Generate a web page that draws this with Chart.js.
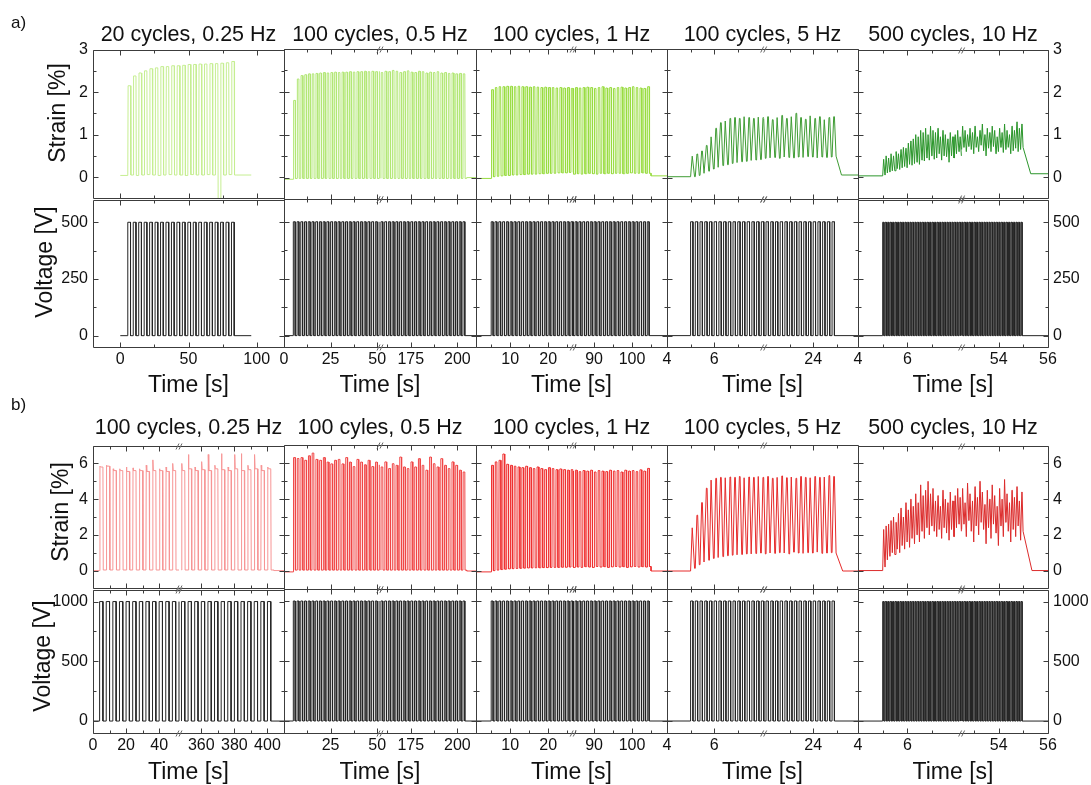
<!DOCTYPE html>
<html>
<head>
<meta charset="utf-8">
<script src="https://cdn.jsdelivr.net/npm/chart.js@4.4.1/dist/chart.umd.min.js"></script>
<style>
  body { margin: 0; background: #fff; }
  #fig { position: relative; width: 1091px; height: 785px; overflow: hidden; font-family: "Liberation Sans", Arial, sans-serif; color: #111; }
  #fig canvas { position: absolute; }
  .lbl { position: absolute; white-space: nowrap; line-height: 1; transform: translate(-50%, -50%); }
  .rot { transform: translate(-50%, -50%) rotate(-90deg); }
</style>
</head>
<body>
<div id="fig"></div>
<script>
const FONT = '"Liberation Sans", Arial, sans-serif';

// ---------- panel titles ----------
const titlesA = ['20 cycles, 0.25 Hz', '100 cycles, 0.5 Hz', '100 cycles, 1 Hz', '100 cycles, 5 Hz', '500 cycles, 10 Hz'];
const titlesB = ['100 cycles, 0.25 Hz', '100 cyles, 0.5 Hz', '100 cycles, 1 Hz', '100 cycles, 5 Hz', '500 cycles, 10 Hz'];

// ---------- actuation ----------
const freqA = [0.25, 0.5, 1, 5, 10];
const cyclesA = [20, 100, 100, 100, 500];
const startA = [5.5, 5, 5, 5, 5];        // s, first pulse
const freqB = [0.25, 0.5, 1, 5, 10];
const cyclesB = [100, 100, 100, 100, 500];
const startB = [4, 5, 5, 5, 5];
const voltLevelA = 500;
const voltLevelB = 1000;

// recorded span [first, last] in s
const recA = [[0, 96], [0, 210], [1, 109.2], [4, 25.9], [4, 56]];
const recB = [[0, 410], [0, 210], [1, 109.2], [4, 25.9], [4, 56]];

// visible pieces of the (broken) time axes
const timeAxisA = [[[-20, 120]], [[0, 51.5], [158.5, 210]], [[1, 26.6], [84.5, 109.2]], [[4, 8.1], [21.9, 25.9]], [[4, 8.2], [52.5, 56]]];
const timeAxisB = [[[0, 52], [346.5, 410]], [[0, 51.5], [158.5, 210]], [[1, 26.6], [84.5, 109.2]], [[4, 8.1], [21.9, 25.9]], [[4, 8.2], [52.5, 56]]];
const timeTicksA = [[0, 50, 100], [0, 25, 50, 175, 200], [10, 20, 90, 100], [4, 6, 24], [4, 6, 54, 56]];
const timeLabelsA = [['0', '50', '100'], ['0', '25', '50', '175', '200'], ['10', '20', '90', '100'], ['4', '6', '24'], ['4', '6', '54', '56']];
const timeMinorA = [[25, 75], [12.5, 37.5, 162.5, 187.5], [5, 15, 25, 85, 95, 105], [5, 7, 23, 25], [5, 7, 53, 55]];
const timeTicksB = [[0, 20, 40, 360, 380, 400], [0, 25, 50, 175, 200], [10, 20, 90, 100], [4, 6, 24], [4, 6, 54, 56]];
const timeLabelsB = [['0', '20', '40', '360', '380', '400'], ['', '25', '50', '175', '200'], ['10', '20', '90', '100'], ['4', '6', '24'], ['4', '6', '54', '56']];
const timeMinorB = [[10, 30, 370, 390], [12.5, 37.5, 162.5, 187.5], [5, 15, 25, 85, 95, 105], [5, 7, 23, 25], [5, 7, 53, 55]];

// y axes
const strainRangeA = [-0.5, 3], strainTicksA = [0, 1, 2, 3], strainMinorA = [0.5, 1.5, 2.5];
const voltRangeA = [-50, 600], voltTicksA = [0, 250, 500], voltMinorA = [125, 375];
const strainRangeB = [-1, 7], strainTicksB = [0, 2, 4, 6], strainMinorB = [1, 3, 5];
const voltRangeB = [-100, 1100], voltTicksB = [0, 500, 1000], voltMinorB = [250, 750];

// ---------- strain, read per cycle (peak / low), % ----------
// a) column 1
const a1Peak = [2.15, 2.38, 2.45, 2.5, 2.55, 2.57, 2.6, 2.6, 2.62, 2.62, 2.63, 2.65, 2.65, 2.66, 2.66, 2.67, 2.67, 2.68, 2.69, 2.72];
const a1Low = [0.05, 0.04, 0.05, 0.06, 0.05, 0.04, 0.05, 0.06, 0.05, 0.05, 0.04, 0.06, 0.05, 0.05, 0.06, 0.05, -0.62, 0.05, 0.06, 0.05];
// a) column 2
const a2PeakL = [1.8, 2.3, 2.38, 2.4, 2.42, 2.42, 2.43, 2.44, 2.45, 2.44, 2.45, 2.46, 2.45, 2.46, 2.46, 2.47, 2.46, 2.47, 2.47, 2.48, 2.47, 2.48, 2.47, 2.48];
const a2PeakR = [2.42, 2.45, 2.48, 2.47, 2.5, 2.48, 2.45, 2.47, 2.49, 2.46, 2.45, 2.48, 2.47, 2.44, 2.46, 2.45, 2.47, 2.44, 2.45, 2.43, 2.44, 2.42, 2.43, 2.42];
const a2Low = -0.02;
// a) column 3
const a3PeakL = [2.05, 2.1, 2.12, 2.12, 2.13, 2.13, 2.12, 2.13, 2.12, 2.12, 2.11, 2.12, 2.11, 2.1, 2.11, 2.1, 2.1, 2.09, 2.1, 2.09, 2.1, 2.08];
const a3PeakR = [2.08, 2.1, 2.09, 2.1, 2.11, 2.1, 2.08, 2.1, 2.12, 2.09, 2.1, 2.08, 2.1, 2.11, 2.09, 2.1, 2.12, 2.1, 2.09, 2.08, 2.12];
const a3LowL = [0.02, 0.03, 0.04, 0.05, 0.05, 0.06, 0.06, 0.07, 0.07, 0.08, 0.08, 0.08, 0.09, 0.09, 0.1, 0.1, 0.1, 0.11, 0.11, 0.11, 0.12, 0.12];
const a3LowR = [0.08, 0.09, 0.08, 0.09, 0.1, 0.09, 0.08, 0.1, 0.09, 0.1, 0.09, 0.1, 0.1, 0.09, 0.1, 0.11, 0.1, 0.1, 0.11, 0.1, 0.1];
// a) column 4
const a4PeakL = [0.5, 0.55, 0.62, 0.75, 0.95, 1.15, 1.28, 1.32, 1.38, 1.4, 1.38, 1.42, 1.4, 1.38, 1.41, 1.4];
const a4LowL = [0.02, 0.05, 0.1, 0.15, 0.2, 0.24, 0.28, 0.3, 0.33, 0.35, 0.37, 0.38, 0.4, 0.41, 0.42, 0.43];
const a4PeakR = [1.38, 1.42, 1.35, 1.4, 1.45, 1.38, 1.42, 1.5, 1.4, 1.36, 1.44, 1.38, 1.42, 1.35, 1.4, 1.42];
const a4LowR = [0.45, 0.46, 0.47, 0.45, 0.48, 0.47, 0.46, 0.48, 0.47, 0.49, 0.48, 0.46, 0.48, 0.47, 0.48, 0.5];
// a) column 5
const a5PeakL = [0.42, 0.5, 0.45, 0.55, 0.5, 0.6, 0.55, 0.65, 0.7, 0.68, 0.8, 0.85, 0.9, 1.0, 0.95, 1.1, 1.05, 1.15, 1.0, 1.2, 1.1, 1.05, 1.15, 0.95, 1.1, 1.0, 0.9, 1.05, 0.95, 1.0, 1.1, 0.95];
const a5LowL = [0.05, 0.1, 0.12, 0.15, 0.15, 0.2, 0.18, 0.22, 0.25, 0.22, 0.3, 0.28, 0.32, 0.35, 0.3, 0.4, 0.38, 0.45, 0.4, 0.5, 0.42, 0.45, 0.55, 0.4, 0.5, 0.48, 0.35, 0.5, 0.45, 0.55, 0.6, 0.5];
const a5PeakR = [0.95, 1.2, 1.1, 1.0, 1.15, 1.05, 1.2, 0.95, 1.1, 1.25, 1.0, 1.15, 1.05, 1.2, 1.1, 0.95, 1.15, 1.05, 1.25, 1.1, 1.0, 1.2, 1.1, 1.3, 1.15, 1.25];
const a5LowR = [0.65, 0.7, 0.6, 0.72, 0.65, 0.55, 0.7, 0.6, 0.75, 0.62, 0.5, 0.68, 0.6, 0.72, 0.55, 0.6, 0.7, 0.58, 0.65, 0.7, 0.55, 0.62, 0.68, 0.6, 0.65, 0.7];

// b) column 1 (overshoot spike, then plateau)
const b1SpikeL = [5.85, 5.9, 5.7, 5.7, 5.8, 5.75, 5.7, 5.9, 6.2, 5.7, 5.8, 6.0, 5.6];
const b1PeakL = [5.8, 5.85, 5.6, 5.6, 5.55, 5.6, 5.6, 5.55, 5.6, 5.6, 5.55, 5.6, 5.5];
const b1SpikeR = [6.6, 6.0, 6.5, 5.8, 6.1, 6.5, 5.9, 6.55, 5.8, 6.5, 6.55, 5.9, 6.5, 5.9, 5.8];
const b1PeakR = [5.6, 5.6, 5.7, 5.6, 5.65, 5.6, 5.7, 5.65, 5.6, 5.7, 5.6, 5.65, 5.7, 5.6, 5.7];
const b1Low = 0.03;
// b) column 2
const b2PeakL = [6.3, 6.25, 6.3, 6.15, 6.4, 6.55, 6.2, 6.15, 6.3, 6.05, 5.95, 6.15, 6.2, 5.95, 6.3, 6.05, 5.8, 6.2, 6.05, 5.9, 6.15, 5.8, 6.05, 5.9];
const b2PeakR = [5.87, 5.78, 6.06, 5.69, 5.96, 5.87, 6.33, 5.78, 5.69, 6.06, 5.78, 6.24, 5.87, 5.6, 6.33, 5.96, 5.78, 6.24, 5.87, 5.69, 6.06, 5.87, 5.6, 5.5];
const b2Low = 0.05;
// b) column 3
const b3PeakL = [5.87, 6.06, 6.15, 6.5, 5.93, 5.87, 5.82, 5.78, 5.74, 5.82, 5.74, 5.69, 5.78, 5.69, 5.63, 5.74, 5.69, 5.63, 5.67, 5.63, 5.6, 5.63];
const b3PeakR = [5.55, 5.6, 5.52, 5.58, 5.55, 5.6, 5.5, 5.58, 5.55, 5.52, 5.6, 5.55, 5.58, 5.5, 5.6, 5.55, 5.58, 5.52, 5.62, 5.55, 5.7];
const b3LowL = [0.02, 0.05, 0.08, 0.1, 0.12, 0.13, 0.14, 0.15, 0.16, 0.17, 0.17, 0.18, 0.18, 0.19, 0.19, 0.2, 0.2, 0.2, 0.21, 0.21, 0.22, 0.22];
const b3LowR = [0.2, 0.22, 0.2, 0.24, 0.22, 0.2, 0.25, 0.22, 0.24, 0.2, 0.23, 0.25, 0.22, 0.24, 0.2, 0.23, 0.25, 0.22, 0.24, 0.22, 0.25];
// b) column 4
const b4PeakL = [2.4, 3.1, 3.8, 4.6, 5.05, 5.15, 5.2, 5.18, 5.22, 5.2, 5.25, 5.18, 5.22, 5.2, 5.25, 5.2];
const b4LowL = [0.15, 0.35, 0.5, 0.6, 0.7, 0.75, 0.8, 0.85, 0.88, 0.9, 0.92, 0.95, 0.95, 0.97, 1.0, 1.0];
const b4PeakR = [5.2, 5.25, 5.15, 5.2, 5.28, 5.18, 5.22, 5.15, 5.25, 5.2, 5.18, 5.25, 5.2, 5.22, 5.3, 5.25];
const b4LowR = [0.95, 1.0, 0.98, 1.02, 1.0, 0.95, 1.05, 1.0, 0.98, 1.02, 1.0, 1.05, 0.98, 1.0, 1.02, 1.0];
// b) column 5
const b5PeakL = [2.3, 2.5, 2.6, 2.8, 3.0, 2.7, 3.2, 3.5, 3.0, 3.8, 3.4, 4.0, 3.6, 4.3, 3.8, 4.8, 4.2, 4.5, 5.0, 4.3, 4.6, 3.9, 4.2, 3.6, 4.5, 4.0, 3.8, 4.4, 3.9, 4.2, 4.6, 4.1];
const b5LowL = [0.2, 0.6, 0.8, 1.0, 0.9, 1.2, 1.0, 1.4, 1.2, 1.6, 1.3, 1.8, 1.5, 2.0, 1.6, 2.2, 1.8, 2.4, 2.0, 2.5, 2.2, 1.9, 2.3, 1.8, 2.4, 2.1, 1.7, 2.3, 1.9, 2.4, 2.6, 2.2];
const b5PeakR = [4.2, 4.6, 3.8, 4.9, 4.3, 3.9, 4.7, 4.1, 5.0, 4.4, 3.7, 4.5, 4.0, 4.8, 4.2, 3.6, 4.6, 4.0, 5.1, 4.3, 3.8, 4.5, 4.1, 4.7, 3.9, 4.4];
const b5LowR = [2.3, 2.6, 1.9, 2.8, 2.2, 1.6, 2.5, 2.0, 2.7, 2.3, 1.5, 2.4, 1.8, 2.6, 2.1, 1.4, 2.5, 1.9, 2.7, 2.2, 1.6, 2.3, 1.9, 2.5, 1.7, 2.2];

// baseline before / after actuation, %
const baseA = [[0.04, 0.05], [-0.04, 0.0], [-0.02, 0.04], [0.02, 0.06], [0.03, 0.08]];
const baseB = [[0.0, 0.0], [-0.05, 0.0], [-0.05, 0.0], [0.0, 0.0], [0.0, 0.0]];
// relaxation after last pulse, s
const tailA = [0, 0, 0, 0.2, 0.3];
const tailB = [0, 0, 0, 0.25, 0.35];

const strainColorsA = ['#c6ee92', '#b2e775', '#98dc3f', '#3f9c34', '#2c962c'];
const strainColorsB = ['#f79595', '#f04646', '#ef3030', '#e62a2a', '#dc2c2c'];

// ---------- assemble ----------
const groupA = {
  freq: freqA, cycles: cyclesA, start: startA, level: voltLevelA, rec: recA, axis: timeAxisA,
  ticks: timeTicksA, tickLabels: timeLabelsA, minor: timeMinorA, base: baseA, tail: tailA,
  colors: strainColorsA, titles: titlesA,
  rise: [0.06, 0.08, 0.1, 0.35, 0.4],
  strain: [
    { pL: a1Peak, lL: a1Low, pR: [], lR: [] },
    { pL: a2PeakL, lL: a2Low, pR: a2PeakR, lR: a2Low },
    { pL: a3PeakL, lL: a3LowL, pR: a3PeakR, lR: a3LowR },
    { pL: a4PeakL, lL: a4LowL, pR: a4PeakR, lR: a4LowR },
    { pL: a5PeakL, lL: a5LowL, pR: a5PeakR, lR: a5LowR }
  ],
  strainBox: [49, 199], voltBox: [199, 347],
  strainRange: strainRangeA, strainTicks: strainTicksA, strainMinor: strainMinorA,
  voltRange: voltRangeA, voltTicks: voltTicksA, voltMinor: voltMinorA,
  tag: ['a)', 18.5, 22], titleY: 35, strainLbl: [57, 113], voltLbl: [44, 262], timeY: 384
};
const groupB = {
  freq: freqB, cycles: cyclesB, start: startB, level: voltLevelB, rec: recB, axis: timeAxisB,
  ticks: timeTicksB, tickLabels: timeLabelsB, minor: timeMinorB, base: baseB, tail: tailB,
  colors: strainColorsB, titles: titlesB,
  rise: [0.05, 0.06, 0.08, 0.35, 0.4],
  strain: [
    { pL: b1PeakL, sL: b1SpikeL, lL: b1Low, pR: b1PeakR, sR: b1SpikeR, lR: b1Low },
    { pL: b2PeakL, lL: b2Low, pR: b2PeakR, lR: b2Low },
    { pL: b3PeakL, lL: b3LowL, pR: b3PeakR, lR: b3LowR },
    { pL: b4PeakL, lL: b4LowL, pR: b4PeakR, lR: b4LowR },
    { pL: b5PeakL, lL: b5LowL, pR: b5PeakR, lR: b5LowR }
  ],
  strainBox: [445, 589], voltBox: [589, 733],
  strainRange: strainRangeB, strainTicks: strainTicksB, strainMinor: strainMinorB,
  voltRange: voltRangeB, voltTicks: voltTicksB, voltMinor: voltMinorB,
  tag: ['b)', 18.5, 404], titleY: 428, strainLbl: [60, 512], voltLbl: [42, 656], timeY: 771
};

const colX = [93, 284, 476, 667, 858, 1048];
const PAD_L = 48, PAD_R = 48, PAD_T = 14;
const fig = document.getElementById('fig');

// time -> position on a broken axis (gaps squeezed out)
function toAxis(t, segs) {
  let x = t;
  for (let i = 1; i < segs.length; i++) if (t >= segs[i][0]) x -= segs[i][0] - segs[i - 1][1];
  return x;
}
// keep points on visible pieces, break the line across a gap
function piece(pts, segs) {
  const out = [];
  let last = -1;
  pts.forEach(([t, v]) => {
    const si = segs.findIndex(s => t >= s[0] && t <= s[1]);
    if (si < 0) return;
    const x = toAxis(t, segs);
    if (last >= 0 && si !== last) out.push({ x: x, y: null });
    out.push({ x: x, y: v });
    last = si;
  });
  return out;
}
const lowAt = (l, i) => Array.isArray(l) ? l[i] : l;

function cycleList(s, N) {
  const out = [];
  s.pL.forEach((p, i) => out.push({ k: i, p: p, lo: lowAt(s.lL, i), sp: s.sL ? s.sL[i] : p }));
  s.pR.forEach((p, i) => out.push({ k: N - s.pR.length + i, p: p, lo: lowAt(s.lR, i), sp: s.sR ? s.sR[i] : p }));
  return out;
}

function strainPoints(g, c) {
  const P = 1 / g.freq[c], ts = g.start[c], N = g.cycles[c], r = g.rise[c];
  const base = g.base[c], rec = g.rec[c];
  const pts = [[rec[0], base[0]]];
  let lo = base[0];
  cycleList(g.strain[c], N).forEach(cy => {
    const t0 = ts + cy.k * P;
    pts.push([t0, lo], [t0 + r * P, cy.sp]);
    if (cy.sp !== cy.p) pts.push([t0 + 2.5 * r * P, cy.p]);
    pts.push([t0 + 0.5 * P, cy.p], [t0 + (0.5 + r) * P, cy.lo]);
    lo = cy.lo;
  });
  const tEnd = ts + N * P;
  pts.push([tEnd, lo], [tEnd + g.tail[c], base[1]], [rec[1], base[1]]);
  return piece(pts, g.axis[c]);
}

function voltPoints(g, c) {
  const P = 1 / g.freq[c], ts = g.start[c], N = g.cycles[c], V = g.level, rec = g.rec[c];
  const pts = [[rec[0], 0]];
  cycleList(g.strain[c], N).forEach(cy => {
    const t0 = ts + cy.k * P;
    pts.push([t0, 0], [t0, V], [t0 + P / 2, V], [t0 + P / 2, 0]);
  });
  pts.push([rec[1], 0]);
  return piece(pts, g.axis[c]);
}

// box, inward ticks and break marks
const framePlugin = {
  id: 'frame',
  afterDatasetsDraw(chart, args, o) {
    const { ctx, chartArea: a } = chart;
    const xs = chart.scales.x, ys = chart.scales.y;
    const px = v => Math.round(v) + 0.5;
    const l = px(a.left), r = px(a.right), t = px(a.top), b = px(a.bottom);
    ctx.save();
    ctx.strokeStyle = '#3c3c3c';
    ctx.lineWidth = 1;
    ctx.beginPath();
    ctx.rect(l, t, r - l, b - t);
    const xt = (list, len) => list.forEach(v => {
      const X = px(xs.getPixelForValue(v));
      ctx.moveTo(X, t); ctx.lineTo(X, t + len);
      ctx.moveTo(X, b); ctx.lineTo(X, b - len);
    });
    const yt = (list, len) => list.forEach(v => {
      const Y = px(ys.getPixelForValue(v));
      ctx.moveTo(l, Y); ctx.lineTo(l + len, Y);
      ctx.moveTo(r, Y); ctx.lineTo(r - len, Y);
    });
    xt(o.xMajor, 5); xt(o.xMinor, 3);
    yt(o.yMajor, 5); yt(o.yMinor, 3);
    ctx.stroke();
    ctx.strokeStyle = '#666';
    ctx.beginPath();
    o.breaks.forEach(v => {
      const X = xs.getPixelForValue(v);
      [t, b].forEach(yb => {
        [-1.5, 1.5].forEach(dx => {
          ctx.moveTo(X + dx - 1.5, yb + 3);
          ctx.lineTo(X + dx + 1.5, yb - 3);
        });
      });
    });
    ctx.stroke();
    ctx.restore();
  }
};

function addChart(g, c, kind) {
  const strain = kind === 'strain';
  const [y0, y1] = strain ? g.strainBox : g.voltBox;
  const x0 = colX[c], x1 = colX[c + 1];
  const padB = strain ? 14 : 30;
  const W = x1 - x0 + PAD_L + PAD_R, H = y1 - y0 + PAD_T + padB;
  const cv = document.createElement('canvas');
  cv.width = W; cv.height = H;
  cv.style.left = (x0 - PAD_L) + 'px';
  cv.style.top = (y0 - PAD_T) + 'px';
  cv.style.width = W + 'px';
  cv.style.height = H + 'px';
  fig.appendChild(cv);

  const segs = g.axis[c];
  const yRange = strain ? g.strainRange : g.voltRange;
  const yTicks = strain ? g.strainTicks : g.voltTicks;
  const yMinor = strain ? g.strainMinor : g.voltMinor;
  const xTicks = g.ticks[c];
  const xLabels = g.tickLabels[c];
  const tickFont = { family: FONT, size: 16 };
  const yAxis = (pos, show) => ({
    type: 'linear', position: pos, min: yRange[0], max: yRange[1],
    grid: { display: false, drawTicks: false }, border: { display: false },
    afterBuildTicks: s => { s.ticks = yTicks.map(v => ({ value: v })); },
    ticks: { display: show, padding: 5, font: tickFont, color: '#111', callback: v => String(v) },
    afterFit: s => { s.width = pos === 'left' ? PAD_L : PAD_R; }
  });

  new Chart(cv, {
    type: 'line',
    data: {
      datasets: [{
        data: strain ? strainPoints(g, c) : voltPoints(g, c),
        borderColor: strain ? g.colors[c] : '#242424',
        borderWidth: 1, pointRadius: 0, tension: 0, spanGaps: false
      }]
    },
    options: {
      responsive: false, animation: false, events: [],
      layout: { padding: { top: PAD_T, left: 0, right: 0, bottom: 0 } },
      plugins: {
        legend: { display: false }, tooltip: { enabled: false },
        frame: {
          xMajor: xTicks.map(v => toAxis(v, segs)),
          xMinor: g.minor[c].map(v => toAxis(v, segs)),
          yMajor: yTicks, yMinor: yMinor,
          breaks: segs.slice(1).map(s => toAxis(s[0], segs))
        }
      },
      scales: {
        x: {
          type: 'linear', position: 'bottom',
          min: segs[0][0], max: toAxis(segs[segs.length - 1][1], segs),
          grid: { display: false, drawTicks: false }, border: { display: false },
          afterBuildTicks: s => { s.ticks = xTicks.map(v => ({ value: toAxis(v, segs) })); },
          ticks: {
            display: !strain, autoSkip: false, maxRotation: 0, minRotation: 0, padding: 3,
            font: tickFont, color: '#111', callback: (v, i) => xLabels[i]
          },
          afterFit: s => { s.height = padB; }
        },
        y: yAxis('left', c === 0),
        y2: yAxis('right', c === 4)
      }
    },
    plugins: [framePlugin]
  });
}

function label(text, cx, cy, size, rot) {
  const d = document.createElement('div');
  d.className = 'lbl' + (rot ? ' rot' : '');
  d.textContent = text;
  d.style.left = cx + 'px';
  d.style.top = cy + 'px';
  d.style.fontSize = size + 'px';
  fig.appendChild(d);
}

[groupA, groupB].forEach(g => {
  for (let c = 0; c < 5; c++) {
    addChart(g, c, 'strain');
    addChart(g, c, 'volt');
    const cx = (colX[c] + colX[c + 1]) / 2;
    label(g.titles[c], cx, g.titleY, 21.5);
    label('Time [s]', cx, g.timeY, 23);
  }
  label(g.tag[0], g.tag[1], g.tag[2], 17);
  label('Strain [%]', g.strainLbl[0], g.strainLbl[1], 23, true);
  label('Voltage [V]', g.voltLbl[0], g.voltLbl[1], 23, true);
});
</script>
</body>
</html>
